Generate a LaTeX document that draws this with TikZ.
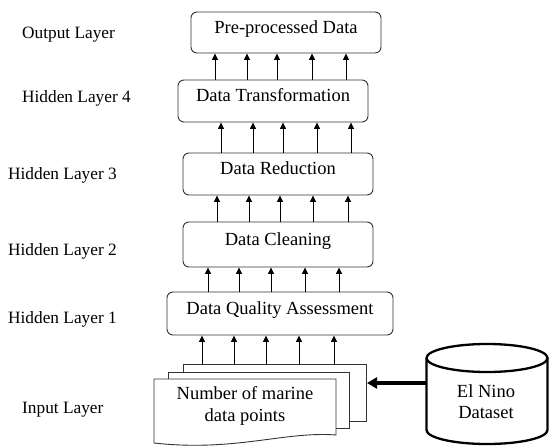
\documentclass[tikz,border=0pt]{standalone}
\usepackage{fontspec}
\setmainfont{Liberation Serif}
\usetikzlibrary{arrows.meta}
\begin{document}
\begin{tikzpicture}[x=1pt,y=-1pt,
  stage/.style={draw=black!80, line width=0.9pt, rounded corners=6pt, fill=white,
    font=\fontsize{18.5}{22}\selectfont, inner sep=0pt,
    text height=9pt, text depth=8pt},
  layer/.style={font=\fontsize{17.3}{20}\selectfont, inner sep=0pt, anchor=base west},
  up/.style={draw=black, line width=0.9pt, -{Triangle[length=6.5pt,width=6pt]}},
  sheet/.style={draw=black!80, line width=0.9pt, fill=white},
  feed/.style={draw=black, line width=3.2pt, -{Triangle[length=10pt,width=11pt]}},
  drum/.style={draw=black, line width=2.3pt}]
\useasboundingbox (0,0) rectangle (549,447);

% layer captions
\node[layer] (lout) at (22,38)  {Output Layer};
\node[layer] (lh4)  at (22,102) {Hidden Layer 4};
\node[layer] (lh3)  at (8,179)  {Hidden Layer 3};
\node[layer] (lh2)  at (8,255)  {Hidden Layer 2};
\node[layer] (lh1)  at (8,323)  {Hidden Layer 1};
\node[layer] (lin)  at (22,413) {Input Layer};

% processing stages
\node[stage, minimum width=190pt, minimum height=41pt] (pre)   at (286,32.5)  {Pre-processed Data};
\node[stage, minimum width=190pt, minimum height=42pt] (trans) at (273,101)   {Data Transformation};
\node[stage, minimum width=190pt, minimum height=42pt] (red)   at (278,174)   {Data Reduction};
\node[stage, minimum width=190pt, minimum height=45pt] (clean) at (278,244.5) {Data Cleaning};
\node[stage, minimum width=226pt, minimum height=43pt] (dqa)   at (280,313.5) {Data Quality Assessment};

% stacked input sheets
\node[sheet, minimum width=183pt, minimum height=57pt, inner sep=0pt] (sheetc) at (274.5,392.5) {};
\node[sheet, minimum width=181pt, minimum height=56pt, inner sep=0pt] (sheetb) at (258.5,400) {};
\draw[sheet] (154,379) -- (336,379) -- (336,435)
  .. controls (285,431) and (235,452) .. (154,443) -- cycle;
\node[font=\fontsize{18.5}{22.5}\selectfont, align=center, inner sep=0pt, anchor=base]
  (sheeta) at (245,421.5) {Number of marine\\data points};

% upward connectors between layers
\foreach \x in {202,234,266,299,334}
  \draw[up] (\x,0 |- sheetc.north) -- (\x,0 |- dqa.south);
\foreach \x in {208,239,271,305,339}
  \draw[up] (\x,0 |- dqa.north) -- (\x,0 |- clean.south);
\foreach \x in {217,249,280,313,348}
  \draw[up] (\x,0 |- clean.north) -- (\x,0 |- red.south);
\foreach \x in {221,253,283,317,351}
  \draw[up] (\x,0 |- red.north) -- (\x,0 |- trans.south);
\foreach \x in {215,247,277,312,346}
  \draw[up] (\x,0 |- trans.north) -- (\x,0 |- pre.south);

% data source cylinder
\draw[drum] (426.5,358) -- (426.5,430) arc[start angle=180, end angle=0, x radius=60.5, y radius=14]
  -- (547.5,358);
\draw[drum] (487,358) ellipse[x radius=60.5, y radius=14];
\node[font=\fontsize{18.5}{21}\selectfont, align=center, inner sep=0pt, anchor=base]
  (elnino) at (486,418) {El Nino\\Dataset};
\coordinate (drumleft) at (426.5,383);
\coordinate (sheetin) at (367,383);
\draw[feed] (drumleft) -- (sheetin);
\end{tikzpicture}
\end{document}
